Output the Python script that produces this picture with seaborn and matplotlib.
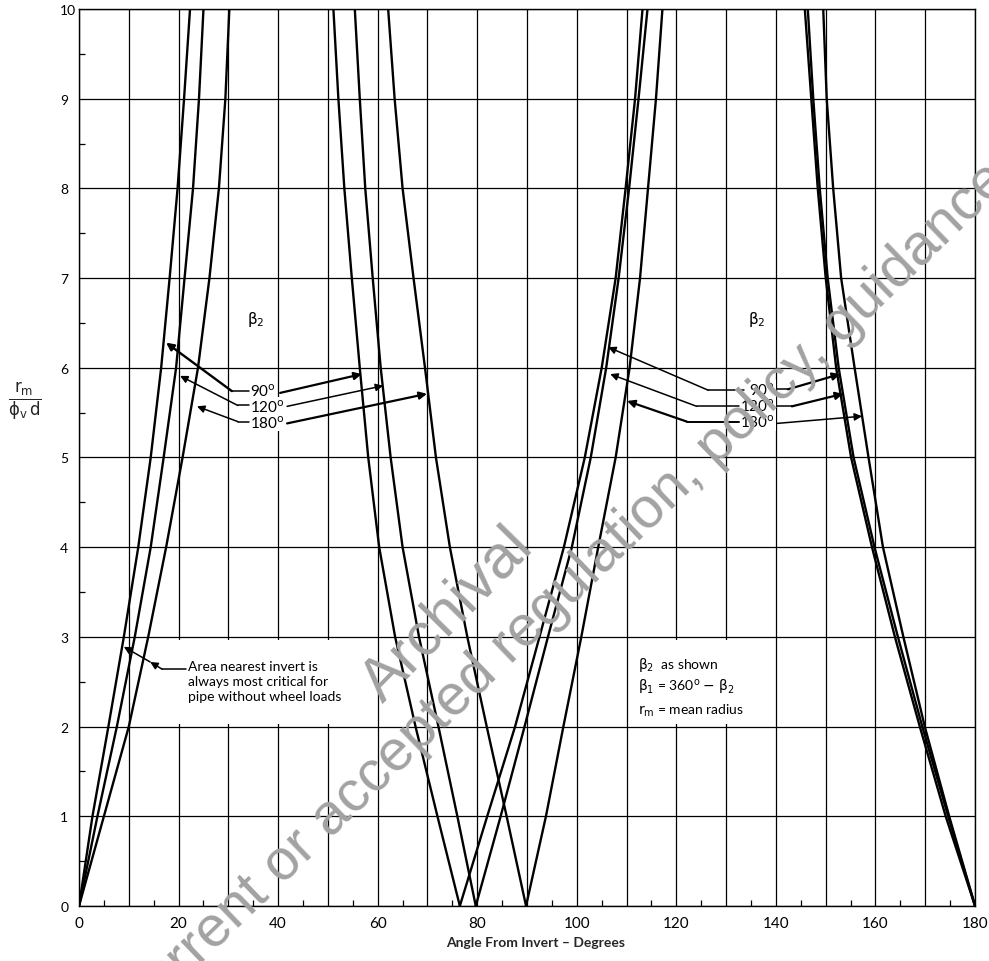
import matplotlib
matplotlib.use("Agg")
import matplotlib.pyplot as plt
import numpy as np
import pandas as pd
import seaborn as sns
from matplotlib.patches import Rectangle
from matplotlib.ticker import FixedLocator

# ---------------- data ----------------
# x positions (angle from invert, degrees) of each curve branch,
# read at these values of r_m / (phi_v d)
y_levels = [0, 1, 2, 3, 4, 5, 6, 7, 8, 9, 10]

# beta2 = 90 deg
b90_left_rise = [0, 2.7, 5.9, 9.0, 11.9, 14.4, 16.5, 18.2, 19.8, 21.1, 22.3]
b90_mid_fall = [76.5, 72.0, 67.6, 63.5, 60.3, 58.1, 56.4, 54.8, 53.3, 52.1, 51.1]
b90_mid_rise = [76.5, 82.0, 87.6, 92.5, 97.4, 101.6, 105.0, 107.8, 109.8, 111.7, 113.2]
b90_right_fall = [180, 174.1, 168.9, 163.9, 159.3, 155.1, 152.1, 150.0, 148.4, 147.1, 145.8]

# beta2 = 120 deg
b120_left_rise = [0, 3.7, 7.6, 11.2, 14.4, 17.0, 19.5, 21.2, 22.9, 24.1, 25.0]
b120_mid_fall = [79.7, 76.0, 72.2, 68.3, 65.0, 62.6, 60.6, 59.0, 57.5, 56.4, 55.4]
b120_mid_rise = [79.7, 84.7, 89.5, 94.2, 99.0, 102.8, 105.9, 108.4, 110.5, 112.4, 114.2]
b120_right_fall = [180, 174.6, 169.4, 164.5, 159.8, 155.6, 152.6, 150.4, 148.8, 147.5, 146.4]

# beta2 = 180 deg
b180_left_rise = [0, 5.0, 10.0, 13.9, 17.5, 20.8, 23.9, 26.2, 28.1, 29.4, 30.2]
b180_mid_fall = [89.8, 85.9, 81.9, 78.0, 74.5, 71.7, 69.5, 67.2, 65.0, 63.4, 62.1]
b180_mid_rise = [89.8, 93.8, 97.3, 100.9, 104.3, 107.8, 110.6, 112.7, 114.3, 115.9, 117.2]
b180_right_fall = [180, 174.8, 169.9, 165.6, 161.5, 158.6, 155.8, 153.1, 151.5, 150.2, 149.5]

beta2_values = ["90", "120", "180"]
x_tick_values = list(range(0, 181, 20))
y_tick_values = list(range(0, 11))

branches = {
    "90": [b90_left_rise, b90_mid_fall, b90_mid_rise, b90_right_fall],
    "120": [b120_left_rise, b120_mid_fall, b120_mid_rise, b120_right_fall],
    "180": [b180_left_rise, b180_mid_fall, b180_mid_rise, b180_right_fall],
}

records = []
for b in beta2_values:
    for k, xs in enumerate(branches[b]):
        for xv, yv in zip(xs, y_levels):
            records.append({"x": xv, "y": yv, "beta2": b, "unit": f"{b}_{k}"})
df = pd.DataFrame(records)

# ---------------- style ----------------
sns.set_theme(style="white")
plt.rcParams["font.family"] = ["Lato", "DejaVu Sans"]
plt.rcParams["mathtext.fontset"] = "dejavusans"
plt.rcParams["axes.edgecolor"] = "black"
plt.rcParams["axes.linewidth"] = 1.0

fig = plt.figure(figsize=(9.89, 9.62), dpi=100)
ax = fig.add_axes([0.0799, 0.0572, 0.906, 0.9324])

sns.lineplot(data=df, x="x", y="y", units="unit", estimator=None, sort=False,
             color="black", linewidth=1.7, legend=False, ax=ax, zorder=3)

ax.set_xlim(0, 180)
ax.set_ylim(0, 10)

# grid & ticks
ax.set_xticks(list(range(0, 181, 10)))
ax.set_xticklabels([str(v) if v in x_tick_values else "" for v in range(0, 181, 10)])
ax.set_yticks(y_tick_values)
ax.set_yticklabels([str(v) for v in y_tick_values])
ax.xaxis.set_minor_locator(FixedLocator([v for v in range(5, 180, 10)]))
ax.yaxis.set_minor_locator(FixedLocator([v + 0.5 for v in range(0, 10)]))
ax.grid(True, which="major", color="black", linewidth=0.9)
ax.set_axisbelow(True)
ax.tick_params(axis="x", which="major", length=0, pad=7, labelsize=11, colors="black")
ax.tick_params(axis="y", which="major", length=0, pad=13.5, labelsize=10, colors="black")
ax.tick_params(axis="x", which="minor", direction="in", length=4, width=0.9,
               bottom=True, top=False, color="black")
ax.tick_params(axis="y", which="minor", direction="in", length=4, width=0.9,
               left=True, right=False, color="black")
for lbl in ax.get_yticklabels():
    lbl.set_horizontalalignment("left")

for s in ax.spines.values():
    s.set_color("black")
    s.set_linewidth(1.0)

ax.set_xlabel("Angle From Invert \u2013 Degrees", fontsize=10, fontweight="bold")
ax.xaxis.set_label_coords(0.509, -0.034)
ax.set_ylabel(r"$\frac{\mathrm{r_m}}{\mathrm{\phi_v\, d}}$", fontsize=17,
              rotation=0, ha="center", va="center")
ax.yaxis.set_label_coords(-0.060, 0.563)

# white panels behind note texts (grid hidden there)
ax.add_patch(Rectangle((19.6, 2.03), 37.0, 0.94, facecolor="white",
                       edgecolor="none", zorder=1.5))
ax.add_patch(Rectangle((111.0, 2.03), 28.0, 0.94, facecolor="white",
                       edgecolor="none", zorder=1.5))

txt_kw = dict(fontsize=10, color="black", zorder=4)
lab_kw = dict(fontsize=11, color="black", zorder=4)
wbox = dict(facecolor="white", edgecolor="none", pad=0.4)


def arrow(lw=1.1):
    return dict(arrowstyle="-|>", color="black", lw=lw, mutation_scale=11,
                shrinkA=0, shrinkB=0)


# --- beta2 labels ---
ax.text(35.6, 6.55, r"$\mathrm{\beta_2}$", ha="center", va="center", **lab_kw)
ax.text(136.2, 6.55, r"$\mathrm{\beta_2}$", ha="center", va="center", **lab_kw)

deg = {"90": r"90$^{\mathrm{o}}$", "120": r"120$^{\mathrm{o}}$", "180": r"180$^{\mathrm{o}}$"}

# left group of labels
left_lab_y = {"90": 5.74, "120": 5.57, "180": 5.39}
for b in beta2_values:
    ax.text(34.4, left_lab_y[b], deg[b], ha="left", va="center", bbox=wbox, **lab_kw)

# leaders to left curves
ax.plot([34.2, 30.7], [5.74, 5.74], color="black", lw=1.1, zorder=3.5)
ax.annotate("", xy=(17.5, 6.28), xytext=(30.7, 5.74), arrowprops=arrow(1.7), zorder=4)
ax.plot([34.2, 31.9], [5.58, 5.58], color="black", lw=1.1, zorder=3.5)
ax.annotate("", xy=(20.3, 5.91), xytext=(31.9, 5.58), arrowprops=arrow(), zorder=4)
ax.plot([34.2, 31.9], [5.40, 5.40], color="black", lw=1.1, zorder=3.5)
ax.annotate("", xy=(23.7, 5.57), xytext=(31.9, 5.40), arrowprops=arrow(), zorder=4)
# leaders to right curves
ax.annotate("", xy=(56.8, 5.93), xytext=(40.4, 5.72), arrowprops=arrow(1.6), zorder=4)
ax.annotate("", xy=(61.1, 5.80), xytext=(41.8, 5.57), arrowprops=arrow(), zorder=4)
ax.annotate("", xy=(69.9, 5.71), xytext=(41.8, 5.38), arrowprops=arrow(1.6), zorder=4)

# right group of labels
right_lab_y = {"90": 5.76, "120": 5.58, "180": 5.40}
for b in beta2_values:
    ax.text(139.8, right_lab_y[b], deg[b], ha="right", va="center", bbox=wbox, **lab_kw)

ax.plot([133.5, 126.4], [5.75, 5.75], color="black", lw=1.1, zorder=3.5)
ax.annotate("", xy=(106.3, 6.23), xytext=(126.4, 5.75), arrowprops=arrow(), zorder=4)
ax.plot([132.5, 124.1], [5.57, 5.57], color="black", lw=1.1, zorder=3.5)
ax.annotate("", xy=(106.7, 5.93), xytext=(124.1, 5.57), arrowprops=arrow(), zorder=4)
ax.plot([132.5, 122.1], [5.40, 5.40], color="black", lw=1.4, zorder=3.5)
ax.annotate("", xy=(110.1, 5.63), xytext=(122.1, 5.40), arrowprops=arrow(1.6), zorder=4)

ax.plot([140.2, 142.4], [5.76, 5.76], color="black", lw=1.1, zorder=3.5)
ax.annotate("", xy=(152.9, 5.93), xytext=(142.4, 5.76), arrowprops=arrow(1.6), zorder=4)
ax.plot([140.2, 143.2], [5.57, 5.57], color="black", lw=1.1, zorder=3.5)
ax.annotate("", xy=(153.5, 5.71), xytext=(143.2, 5.57), arrowprops=arrow(1.6), zorder=4)
ax.annotate("", xy=(157.3, 5.46), xytext=(140.2, 5.38), arrowprops=arrow(), zorder=4)

# --- note near invert ---
ax.text(21.8, 2.68, "Area nearest invert is", ha="left", va="center", **txt_kw)
ax.text(21.8, 2.51, "always most critical for", ha="left", va="center", **txt_kw)
ax.text(21.8, 2.34, "pipe without wheel loads", ha="left", va="center", **txt_kw)
ax.plot([21.5, 16.7], [2.64, 2.64], color="black", lw=1.1, zorder=4)
ax.annotate("", xy=(14.3, 2.72), xytext=(16.7, 2.64), arrowprops=arrow(), zorder=4)
ax.annotate("", xy=(9.0, 2.89), xytext=(14.3, 2.72), arrowprops=arrow(), zorder=4)

# --- definitions box ---
ax.text(112.3, 2.70, r"$\mathrm{\beta_2}$  as shown", ha="left", va="center", **txt_kw)
ax.text(112.3, 2.45, r"$\mathrm{\beta_1}$ = 360$^{\mathrm{o}}$ $-$ $\mathrm{\beta_2}$",
        ha="left", va="center", **txt_kw)
ax.text(112.3, 2.19, r"$\mathrm{r_m}$ = mean radius", ha="left", va="center", **txt_kw)

# --- archival watermark ---
wm = dict(color="#a2a2a2", family=["Liberation Sans", "DejaVu Sans"],
          rotation_mode="anchor", ha="center", va="center",
          transform=fig.transFigure, zorder=10)
fig.text(0.453, 0.361, "Archival", fontsize=44, rotation=45.5, **wm)
fig.text(0.572, 0.385, "current or accepted regulation, policy, guidance",
         fontsize=41.5, rotation=44.0, **wm)

fig.savefig("out.png", dpi=100, facecolor="white")
